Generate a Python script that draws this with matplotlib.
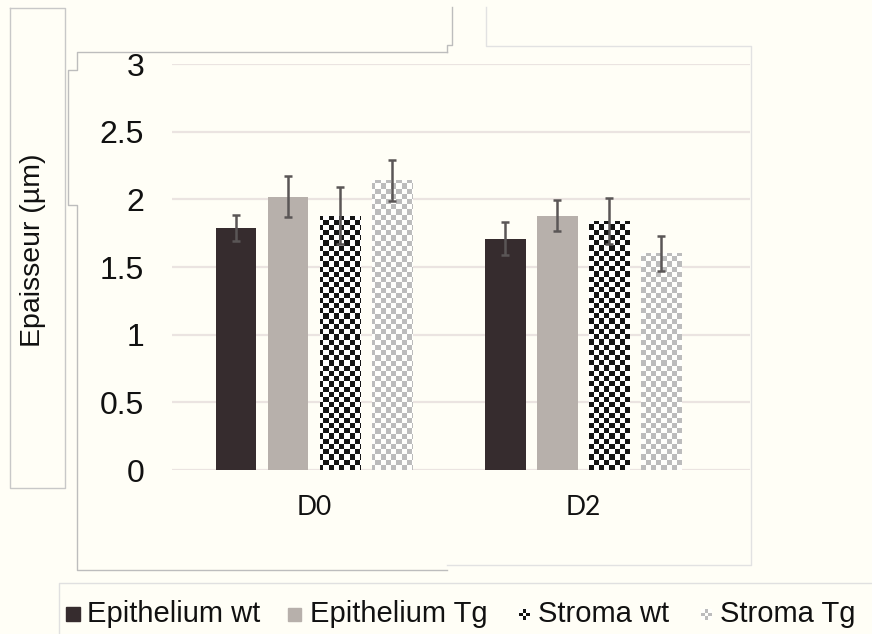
import numpy as np
import matplotlib
matplotlib.use("Agg")
import matplotlib.pyplot as plt
from matplotlib.patches import Rectangle
from matplotlib.lines import Line2D

# data
days = ["D0", "D2"]
series = ["Epithelium wt", "Epithelium Tg", "Stroma wt", "Stroma Tg"]
epi_wt = [1.79, 1.71]
epi_tg = [2.02, 1.88]
str_wt = [1.88, 1.84]
str_tg = [2.14, 1.60]
epi_wt_err = [0.095, 0.12]
epi_tg_err = [0.15, 0.115]
str_wt_err = [0.21, 0.17]
str_tg_err = [0.15, 0.13]
yticks = [0, 0.5, 1, 1.5, 2, 2.5, 3]
ytick_labels = ["0", "0.5", "1", "1.5", "2", "2.5", "3"]

bg = "#fffef6"
W, H = 872, 634

plt.rcParams["font.family"] = ["Liberation Sans", "DejaVu Sans"]

fig = plt.figure(figsize=(W / 100, H / 100), dpi=100, facecolor=bg)

def fx(x):
    return x / W

def fy(y):
    return 1 - y / H

ax = fig.add_axes([fx(172), fy(470), 578 / W, 406 / H])
ax.set_facecolor(bg)
xlim = (-0.527, 1.618)
ylim = (0, 3)

x = np.arange(len(days))
width = 0.15
step = 0.193
offsets = [-1.5 * step, -0.5 * step, 0.5 * step, 1.5 * step]
vals = [epi_wt, epi_tg, str_wt, str_tg]
errs = [epi_wt_err, epi_tg_err, str_wt_err, str_tg_err]

# checkerboard images for the stroma bars
cell = 5.2
ncols = int(578 / cell)
nrows = int(406 / cell)
ii, jj = np.indices((nrows, ncols))
chk = (ii + jj) % 2

def checker(dark, light):
    img = np.zeros((nrows, ncols, 3))
    img[chk == 1] = dark
    img[chk == 0] = light
    return img

patterns = {
    2: checker((0.08, 0.08, 0.08), (1.0, 1.0, 1.0)),
    3: checker((0.74, 0.74, 0.74), (1.0, 1.0, 0.99)),
}
solid = {0: "#362c2e", 1: "#b7b0ab"}

for k in range(4):
    if k in solid:
        ax.bar(x + offsets[k], vals[k], width, color=solid[k], zorder=3)
    else:
        bars = ax.bar(x + offsets[k], vals[k], width, facecolor="none",
                      edgecolor="none", zorder=3)
        for b in bars:
            im = ax.imshow(patterns[k], extent=(xlim[0], xlim[1], ylim[0], ylim[1]),
                           aspect="auto", interpolation="nearest", zorder=3)
            im.set_clip_path(b)
    ax.errorbar(x + offsets[k], vals[k], yerr=errs[k], fmt="none",
                ecolor="#5a5656", elinewidth=1.8, capsize=3.2, capthick=1.8,
                zorder=5)

ax.set_xlim(*xlim)
ax.set_ylim(*ylim)
ax.set_yticks(yticks)
ax.set_yticklabels(ytick_labels, fontsize=23, color="#111111")
ax.set_xticks(x)
ax.set_xticklabels(days, fontsize=19, family=["Lato", "DejaVu Sans"], color="#111111")
ax.tick_params(axis="y", length=0, pad=20)
ax.tick_params(axis="x", length=0, pad=18)
ax.yaxis.grid(True, color="#ebe4e1", linewidth=1.6, zorder=0)
ax.set_axisbelow(True)
for s in ax.spines.values():
    s.set_visible(False)

fig.text(fx(33), fy(250), "Epaisseur (µm)", rotation=90, ha="center",
         va="center", fontsize=20.5, color="#111111")

# leftover frame lines around the panels
def seg(xs, ys, color):
    fig.add_artist(Line2D([fx(v) for v in xs], [fy(v) for v in ys],
                          transform=fig.transFigure, color=color, linewidth=1))

seg([10, 65, 65, 10, 10], [8, 8, 488, 488, 8], "#c8c8c8")
seg([447, 77, 77, 68, 68, 77, 77, 447], [52, 52, 70, 70, 205, 205, 570, 570], "#bdbdbd")
seg([447, 447, 452, 452], [52, 45, 45, 7], "#bdbdbd")
seg([486, 486, 751, 751, 447], [7, 46, 46, 565, 565], "#e2e2e2")
seg([872, 59, 59], [583, 583, 634], "#e0e0e0")

# legend drawn by hand
leg_y = 614
markers = [(66, 14), (288, 13), (519, 11), (701, 11)]
text_x = [87, 310, 538, 720]
for k in range(4):
    mx, ms = markers[k]
    if k in solid:
        fig.add_artist(Rectangle((fx(mx), fy(leg_y + ms / 2)), ms / W, ms / H,
                                 transform=fig.transFigure, color=solid[k]))
    else:
        iax = fig.add_axes([fx(mx), fy(leg_y + ms / 2), ms / W, ms / H])
        small = patterns[k][:3, :3]
        iax.imshow(small, aspect="auto", interpolation="nearest")
        iax.axis("off")
    fig.text(fx(text_x[k]), fy(leg_y), series[k], ha="left", va="center",
             fontsize=21, color="#111111")

fig.savefig("out.png", dpi=100, facecolor=bg)
